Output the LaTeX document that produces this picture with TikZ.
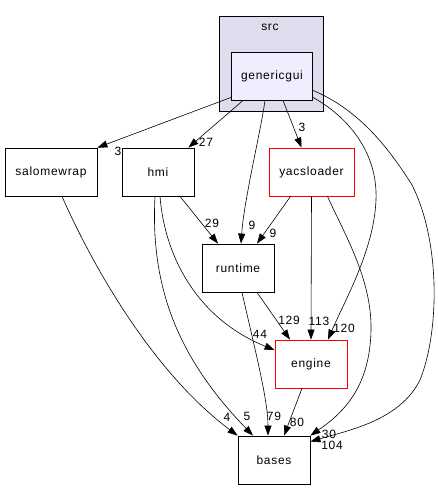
\documentclass[tikz,border=0pt]{standalone}
\usepackage{fontspec}
\setmainfont{Liberation Sans}[LetterSpace=6]
\usetikzlibrary{arrows.meta}
\definecolor{clfill}{HTML}{DDDDEE}
\definecolor{ggfill}{HTML}{EEEEFF}
\tikzset{
  box/.style={draw=black, line width=0.8pt, fill=white, minimum width=72pt, minimum height=48pt, inner sep=0pt, font=\fontsize{12}{14}\selectfont},
  redbox/.style={box, draw=red},
  arr/.style={line width=0.6pt, -{Triangle[length=10pt,width=7pt]}},
  lbl/.style={inner sep=0pt, font=\fontsize{12}{14}\selectfont}
}
\begin{document}
\begin{tikzpicture}[x=1pt,y=-1pt]
\useasboundingbox (0,0) rectangle (437,489);
% cluster
\draw[line width=0.8pt, fill=clfill] (219.5,16) rectangle (323,111);
\node[lbl] (srclbl) at (270,27) {src};
% nodes
\node[box, fill=ggfill, minimum width=81pt] (gg) at (272,76) {genericgui};
\node[box, minimum width=92pt] (sw) at (51,172) {salomewrap};
\node[box] (hmi) at (158,172) {hmi};
\node[redbox, minimum width=85pt] (yl) at (311.5,172) {yacsloader};
\node[box] (rt) at (238,268) {runtime};
\node[redbox] (en) at (311,364) {engine};
\node[box] (ba) at (274,460) {bases};
% edges
\draw[arr] ([yshift=3pt]gg.south west) -- (sw.north east);
\node[lbl] (l1) at (118,151) {3};
\draw[arr] ([xshift=12pt]gg.south west) -- ([xshift=-6pt]hmi.north east);
\node[lbl] (l2) at (206,142) {27};
\draw[arr] ([xshift=-7pt]gg.south) .. controls (261,130) and (244,200) .. ([xshift=3pt]rt.north);
\node[lbl] (l3) at (252,225) {9};
\draw[arr] ([xshift=11pt]gg.south) -- ([xshift=-10pt]yl.north);
\node[lbl] (l4) at (302,127) {3};
\draw[arr] ([yshift=3pt]gg.south east) .. controls (345,115) and (378,150) .. (376,200) .. controls (374,250) and (345,300) .. ([xshift=17pt]en.north);
\node[lbl] (l5) at (344,328) {120};
\draw[arr] ([yshift=10pt]gg.south east) .. controls (360,110) and (390,150) .. (412,185) .. controls (440,240) and (440,330) .. (420,380) .. controls (400,420) and (350,430) .. ([yshift=-6pt]ba.north east);
\node[lbl] (l6) at (332,445) {104};
\draw[arr] ([xshift=16pt]yl.south) .. controls (345,235) and (372,280) .. (371,330) .. controls (370,390) and (340,415) .. (ba.north east);
\node[lbl] (l7) at (329,434) {30};
\draw[arr] ([xshift=22pt]hmi.south) -- ([xshift=-20pt]rt.north);
\node[lbl] (l8) at (212,223) {29};
\draw[arr] ([xshift=-21pt]yl.south) -- ([xshift=19pt]rt.north);
\node[lbl] (l9) at (273,233) {9};
\draw[arr] (yl.south) -- (en.north);
\node[lbl] (l10) at (319,321) {113};
\draw[arr] ([xshift=19pt]rt.south) -- ([xshift=-21pt]en.north);
\node[lbl] (l11) at (289,320) {129};
\draw[arr] ([xshift=2pt]hmi.south) .. controls (165,260) and (200,320) .. ([yshift=14pt]en.west);
\node[lbl] (l12) at (260,334) {44};
\draw[arr] ([xshift=-3pt]hmi.south) .. controls (150,290) and (180,360) .. ([xshift=-21pt]ba.north);
\node[lbl] (l13) at (247,416) {5};
\draw[arr] ([xshift=11pt]sw.south) .. controls (90,260) and (150,370) .. (ba.north west);
\node[lbl] (l14) at (227,417) {4};
\draw[arr] ([xshift=4pt]rt.south) .. controls (255,350) and (268,400) .. ([xshift=-6pt]ba.north);
\node[lbl] (l15) at (274,416) {79};
\draw[arr] ([xshift=-9pt]en.south) -- ([xshift=10pt]ba.north);
\node[lbl] (l16) at (297,422) {80};
\end{tikzpicture}
\end{document}
